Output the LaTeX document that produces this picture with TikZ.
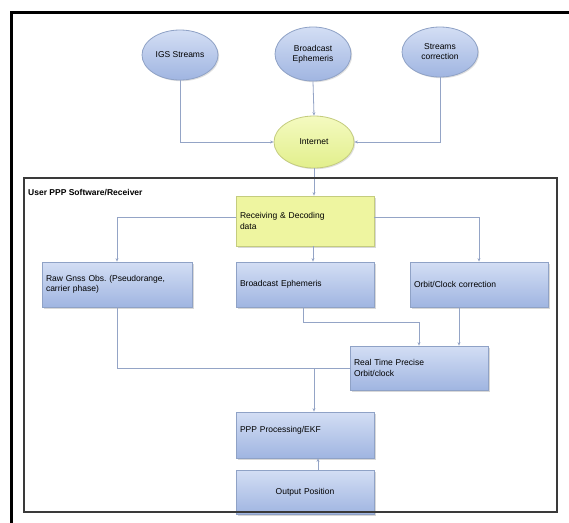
\documentclass[tikz,border=0pt]{standalone}
\usepackage{fontspec}
\setmainfont{Liberation Sans}
\frenchspacing
\usetikzlibrary{shapes.geometric,arrows.meta,shadows}
\definecolor{lnc}{HTML}{94A4C6}
\definecolor{boxtop}{HTML}{D3DEF4}
\definecolor{boxbot}{HTML}{A0B5E1}
\definecolor{boxdraw}{HTML}{8FA2C6}
\definecolor{ylfill}{HTML}{EEF5A0}
\definecolor{yltop}{HTML}{F4FAC0}
\definecolor{ylbot}{HTML}{E2EF8C}
\definecolor{yldraw}{HTML}{C4CC7E}
\definecolor{frame}{HTML}{3A3A3A}
\tikzset{
  ell/.style={ellipse, draw=boxdraw, line width=0.8pt, top color=boxtop, bottom color=boxbot,
    minimum width=76pt, minimum height=50pt, inner sep=0pt, align=center,
    font=\fontsize{8.5}{10}\selectfont,
    drop shadow={shadow xshift=1.2pt, shadow yshift=-1.2pt, opacity=0.25}},
  inetell/.style={ellipse, draw=yldraw, line width=0.8pt, top color=yltop, bottom color=ylbot,
    minimum width=80pt, minimum height=52pt, inner sep=0pt, align=center,
    font=\fontsize{8.5}{10}\selectfont,
    drop shadow={shadow xshift=1.2pt, shadow yshift=-1.2pt, opacity=0.25}},
  box/.style={rectangle, draw=boxdraw, line width=0.8pt, top color=boxtop, bottom color=boxbot,
    text width=130pt, inner xsep=4pt, minimum height=45pt, align=left,
    font=\fontsize{8.5}{10.5}\selectfont,
    drop shadow={shadow xshift=1.5pt, shadow yshift=-1.5pt, opacity=0.3}},
  ylbox/.style={box, draw=yldraw, top color=ylfill, bottom color=ylfill, minimum height=50pt},
  conn/.style={draw=lnc, line width=0.8pt, -{Stealth[length=3.5pt,width=3pt]}},
  plain/.style={draw=lnc, line width=0.8pt}
}
\begin{document}
\begin{tikzpicture}[x=1pt,y=-1pt]
\useasboundingbox (0,0) rectangle (569,522);
\fill[white] (0,0) rectangle (569,522);
\draw[line width=3pt, black] (11,526) -- (11,12) -- (573,12);

% ellipses
\node[ell] (igs) at (180,55) {IGS Streams};
\node[ell, minimum height=54pt] (bce) at (313,54) {Broadcast\\Ephemeris};
\node[ell] (sc) at (440,52) {Streams\\correction};
\node[inetell] (inet) at (314,142) {Internet};

% boxes
\node[ylbox] (recv) at (305,221) {Receiving \& Decoding\\data};
\node[box, text width=142pt] (raw) at (117,284.5) {Raw Gnss Obs. (Pseudorange,\\carrier phase)};
\node[box] (beph) at (305,284.5) {Broadcast Ephemeris};
\node[box] (orbit) at (479,284.5) {Orbit/Clock correction};
\node[box, minimum height=44pt] (rt) at (419,368) {Real Time Precise\\Orbit/clock};
\node[box, minimum height=46pt] (ppp) at (305,435) {PPP Processing/EKF\\\mbox{}};
\node[box, minimum height=44pt, align=center] (out) at (305,492) {Output Position};

% connectors top
\draw[conn] (igs.south) |- (inet.west);
\draw[conn] (sc.south) |- (inet.east);
\draw[conn] (bce.south) -- (inet.north);
\draw[conn] (inet.south) -- ([xshift=9pt]recv.north);

% branch
\draw[conn] ([yshift=4pt]recv.west) -| (raw.north);
\draw[conn] ([yshift=4pt]recv.east) -| (orbit.north);
\draw[conn] ([xshift=8pt]recv.south) -- ([xshift=8pt]beph.north);

% into real time
\coordinate (bj) at ([xshift=-2pt,yshift=-15pt]beph.south);
\draw[plain] ([xshift=-2pt]beph.south) -- (bj);
\draw[conn] (bj) -| (rt.north);
\draw[conn] ([xshift=-20pt]orbit.south) -- ([xshift=40pt]rt.north);

% into PPP
\draw[plain] (raw.south) |- (rt.west);
\coordinate (pj) at ([xshift=9pt]ppp.north |- rt.west);
\draw[conn] (pj) -- ([xshift=9pt]ppp.north);
\draw[conn] ([xshift=13pt]out.north) -- ([xshift=13pt]ppp.south);

% inner frame and label
\draw[line width=2.5pt, draw=frame] (24,178) rectangle (557,512);
\node[anchor=west, font=\fontsize{8.5}{10}\selectfont\bfseries, inner sep=0pt] (ttl) at (28,193) {User PPP Software/Receiver};
\end{tikzpicture}
\end{document}
